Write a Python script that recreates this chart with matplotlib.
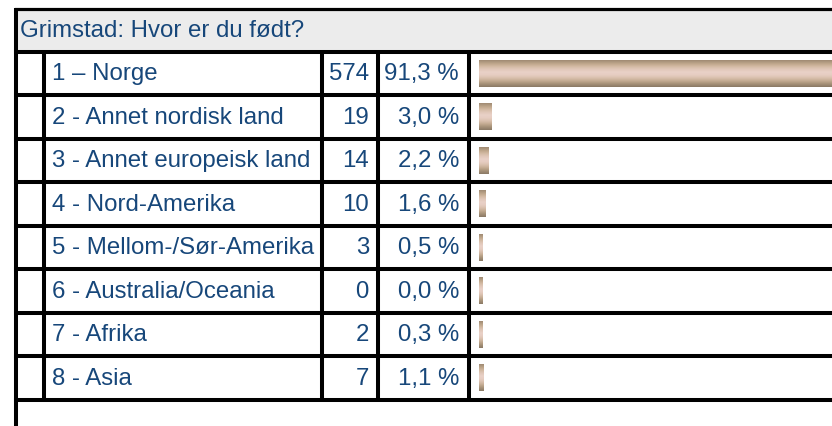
import numpy as np
import matplotlib
matplotlib.use('Agg')
import matplotlib.pyplot as plt
from matplotlib.colors import LinearSegmentedColormap

title = 'Grimstad: Hvor er du født?'
labels = ['1 – Norge', '2 - Annet nordisk land', '3 - Annet europeisk land',
          '4 - Nord-Amerika', '5 - Mellom-/Sør-Amerika', '6 - Australia/Oceania',
          '7 - Afrika', '8 - Asia']
counts = [574, 19, 14, 10, 3, 0, 2, 7]
pcts = [91.3, 3.0, 2.2, 1.6, 0.5, 0.0, 0.3, 1.1]

W, H = 832, 426
txt_color = '#17477a'
plt.rcParams['font.family'] = ['Liberation Sans', 'DejaVu Sans']
fs = 17.3

fig = plt.figure(figsize=(W / 100, H / 100), dpi=100)
ax = fig.add_axes([0, 0, 1, 1])
ax.set_xlim(0, W)
ax.set_ylim(H, 0)
ax.axis('off')

# table grid (pixel layout)
x_left, x_lab, x_cnt, x_pct, x_bar = 16, 43.5, 322, 378, 468.5
y_top, y_head = 9, 51.5
row_h = 43.5
n = len(labels)
y_rows = [y_head + i * row_h for i in range(n + 1)]
lw = 2.9

ax.fill_between([x_left, W], y_top, y_head, color='#ececec', lw=0)
ax.plot([x_left, x_left], [y_top - 1.5, H], color='black', lw=lw, solid_capstyle='butt')
ax.plot([x_left, W], [y_top, y_top], color='black', lw=lw - 0.6)
for y in y_rows:
    ax.plot([x_left, W], [y, y], color='black', lw=lw)
for x in [x_lab, x_cnt, x_pct, x_bar]:
    ax.plot([x, x], [y_head, y_rows[-1]], color='black', lw=lw, solid_capstyle='butt')

ax.text(20, (y_top + y_head) / 2 + 1, title, fontsize=fs, color=txt_color,
        va='center', ha='left')
for i in range(n):
    yc = y_head + (i + 0.5) * row_h + 1
    ax.text(52, yc, labels[i], fontsize=fs, color=txt_color, va='center', ha='left')
    ax.text(369, yc, str(counts[i]), fontsize=fs, color=txt_color, va='center', ha='right')
    ax.text(459, yc, f'{pcts[i]:.1f} %'.replace('.', ','), fontsize=fs,
            color=txt_color, va='center', ha='right')

# bars
bx0 = 479
bax = fig.add_axes([bx0 / W, 1 - y_rows[-1] / H, (W - bx0) / W, (y_rows[-1] - y_head) / H])
bax.set_xlim(0, (W - bx0) / 4.3)
bax.set_ylim(n - 0.5, -0.5)
bax.axis('off')
widths = np.maximum(np.array(pcts), 0.7)
bars = bax.barh(range(n), widths, height=0.62, left=0, color='none')

cmap = LinearSegmentedColormap.from_list('bar', ['#a08b73', '#bba388', '#d2b9a1', '#e0c7b8',
                                                 '#e9d1c7', '#e6cdc2', '#d9c0ad', '#c3ab91',
                                                 '#a69178', '#8a7a66'])
grad = np.linspace(0, 1, 64).reshape(-1, 1)
for b in bars:
    x, y, w, h = b.get_x(), b.get_y(), b.get_width(), b.get_height()
    bax.imshow(grad, cmap=cmap, aspect='auto', interpolation='bilinear',
               extent=(x, x + w, y + h, y), origin='upper')
bax.set_xlim(0, (W - bx0) / 4.3)
bax.set_ylim(n - 0.5, -0.5)

fig.savefig('out.png', dpi=100)
